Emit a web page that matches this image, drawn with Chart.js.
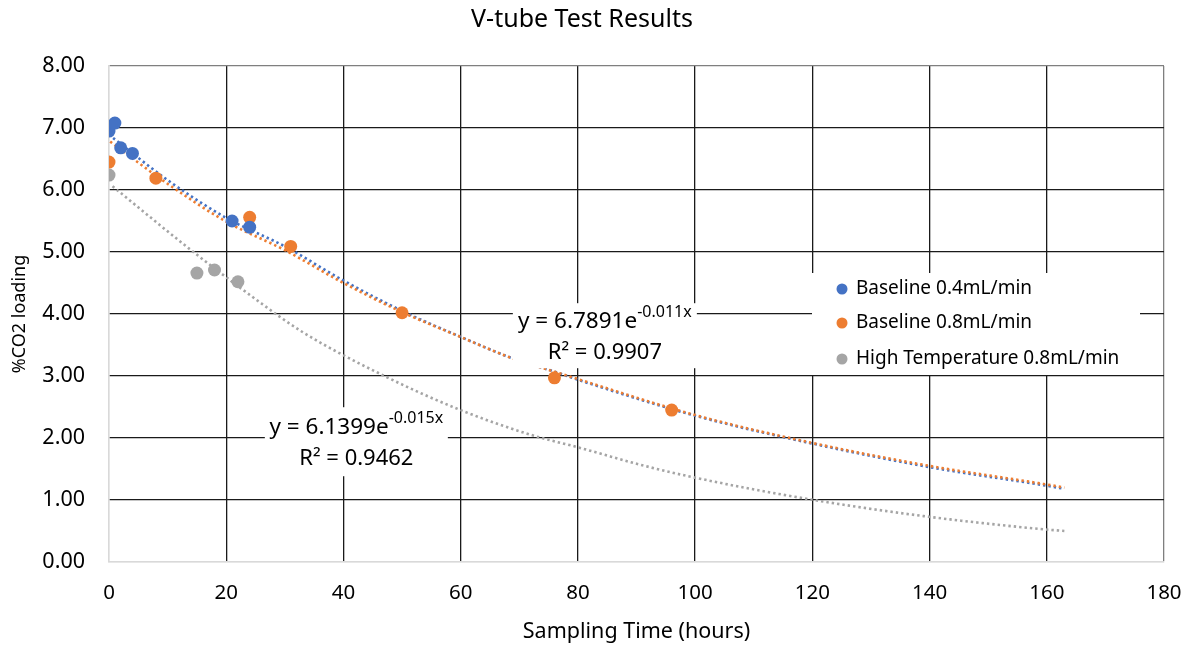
<!DOCTYPE html>
<html lang="en">
<head>
    <meta charset="UTF-8">
    <title>V-tube Test Results</title>
    <script src="https://cdn.jsdelivr.net/npm/chart.js"></script>
    <style>
        body {
            margin: 0;
            background: #ffffff;
        }
        .chart-container {
            width: 1191px;
            height: 646px;
        }
    </style>
</head>
<body>
    <div class="chart-container">
        <canvas id="vtubeChart"></canvas>
    </div>
    <script>
        // measured points (hours, %CO2)
        const hoursBlue = [0, 1, 2, 4, 21, 24];
        const co2Blue = [6.95, 7.08, 6.68, 6.59, 5.50, 5.40];
        const hoursOrange = [0, 8, 24, 31, 50, 76, 96];
        const co2Orange = [6.45, 6.19, 5.56, 5.09, 4.02, 2.97, 2.45];
        const hoursGray = [0, 15, 18, 22];
        const co2Gray = [6.24, 4.66, 4.71, 4.52];

        // trendlines
        const trendHoursBlue = [0.7, 10, 20, 30, 40, 50, 60, 68.7, 76, 80, 100, 120, 140, 160, 163];
        const trendBlue = [6.84, 6.16, 5.55, 5.09, 4.54, 4.05, 3.63, 3.29, 3.07, 2.94, 2.36, 1.91, 1.53, 1.23, 1.18];
        const trendHoursOrange = [0.2, 10, 20, 30, 40, 50, 60, 68.7, 76, 80, 100, 120, 140, 160, 163];
        const trendOrange = [6.78, 6.10, 5.49, 5.03, 4.50, 4.03, 3.63, 3.29, 3.07, 2.95, 2.37, 1.92, 1.55, 1.25, 1.20];
        const trendHoursGray = [0.6, 14, 25, 33, 47, 60, 72, 80, 91, 100, 119, 139, 158, 163];
        const trendGray = [6.06, 5.03, 4.24, 3.71, 3.00, 2.45, 2.05, 1.85, 1.56, 1.36, 1.02, 0.74, 0.54, 0.50];

        const seriesNames = ['Baseline 0.4mL/min', 'Baseline 0.8mL/min', 'High Temperature 0.8mL/min'];
        const seriesColors = ['#4472C4', '#ED7D31', '#A5A5A5'];

        const xTicks = [0, 20, 40, 60, 80, 100, 120, 140, 160, 180];
        const yTicks = [0, 1, 2, 3, 4, 5, 6, 7, 8];

        const trendLabels = [
            { x: 84.6, y: 3.65, w: 184, h: 65, eq: 'y = 6.7891e', exp: '-0.011x', r2: 'R\u00B2 = 0.9907' },
            { x: 42.2, y: 1.94, w: 183, h: 69, eq: 'y = 6.1399e', exp: '-0.015x', r2: 'R\u00B2 = 0.9462' }
        ];

        const FONT = "'Noto Sans', sans-serif";

        function pts(xs, ys) {
            return xs.map((x, i) => ({ x: x, y: ys[i] }));
        }

        function scatterSet(i, xs, ys) {
            return {
                label: seriesNames[i],
                data: pts(xs, ys),
                backgroundColor: seriesColors[i],
                borderColor: seriesColors[i],
                pointRadius: 6.5,
                pointBorderWidth: 0,
                order: i
            };
        }

        function trendSet(i, xs, ys) {
            return {
                label: seriesNames[i] + ' trend',
                data: pts(xs, ys),
                showLine: true,
                borderColor: seriesColors[i],
                borderWidth: 2.6,
                borderDash: [2.4, 3],
                pointRadius: 0,
                cubicInterpolationMode: 'monotone',
                order: 5 - i
            };
        }

        // white boxes with the trendline equations
        const trendLabelPlugin = {
            id: 'trendLabels',
            afterDatasetsDraw(chart) {
                const ctx = chart.ctx;
                const xs = chart.scales.x, ys = chart.scales.y;
                trendLabels.forEach(l => {
                    const cx = xs.getPixelForValue(l.x);
                    const cy = ys.getPixelForValue(l.y);
                    ctx.save();
                    ctx.fillStyle = '#ffffff';
                    ctx.fillRect(cx - l.w / 2, cy - l.h / 2, l.w, l.h);
                    ctx.fillStyle = '#000000';
                    ctx.textBaseline = 'middle';
                    ctx.font = '22.5px ' + FONT;
                    const w1 = ctx.measureText(l.eq).width;
                    ctx.font = '16px ' + FONT;
                    const w2 = ctx.measureText(l.exp).width;
                    const x0 = cx - (w1 + w2) / 2;
                    ctx.font = '22.5px ' + FONT;
                    ctx.textAlign = 'left';
                    ctx.fillText(l.eq, x0, cy - 14);
                    ctx.font = '16px ' + FONT;
                    ctx.fillText(l.exp, x0 + w1, cy - 23);
                    ctx.font = '22px ' + FONT;
                    ctx.textAlign = 'center';
                    ctx.fillText(l.r2, cx, cy + 17);
                    ctx.restore();
                });
            }
        };

        // legend box inside the plot area
        const legendBoxPlugin = {
            id: 'legendBox',
            afterDraw(chart) {
                const ctx = chart.ctx;
                const area = chart.chartArea;
                const left = area.right - 352, top = area.top + 207;
                ctx.save();
                ctx.fillStyle = '#ffffff';
                ctx.fillRect(left, top, 328, 102);
                ctx.font = '19px ' + FONT;
                ctx.textBaseline = 'middle';
                ctx.textAlign = 'left';
                const rows = [16, 50, 86];
                seriesNames.forEach((name, i) => {
                    ctx.fillStyle = seriesColors[i];
                    ctx.beginPath();
                    ctx.arc(left + 30, top + rows[i], 5.5, 0, Math.PI * 2);
                    ctx.fill();
                    ctx.fillStyle = '#000000';
                    ctx.fillText(name, left + 44, top + rows[i]);
                });
                ctx.restore();
            }
        };

        function gridColor(c) {
            if (!c.tick) return '#1a1a1a';
            if (c.tick.value === 0) return '#d9d9d9';
            if (c.tick.value === 180 || c.tick.value === 8) return '#7f7f7f';
            return '#1a1a1a';
        }

        const ctx = document.getElementById('vtubeChart').getContext('2d');
        new Chart(ctx, {
            type: 'scatter',
            data: {
                datasets: [
                    scatterSet(0, hoursBlue, co2Blue),
                    scatterSet(1, hoursOrange, co2Orange),
                    scatterSet(2, hoursGray, co2Gray),
                    trendSet(0, trendHoursBlue, trendBlue),
                    trendSet(1, trendHoursOrange, trendOrange),
                    trendSet(2, trendHoursGray, trendGray)
                ]
            },
            options: {
                responsive: true,
                maintainAspectRatio: false,
                animation: false,
                layout: { padding: { left: 0, right: 27, top: 0, bottom: 0 } },
                plugins: {
                    legend: { display: false },
                    tooltip: { enabled: false },
                    title: {
                        display: true,
                        text: 'V-tube Test Results',
                        color: '#000000',
                        font: { family: FONT, size: 25, weight: 'normal' },
                        padding: { top: 5, bottom: 31 }
                    }
                },
                scales: {
                    x: {
                        type: 'linear',
                        min: xTicks[0],
                        max: xTicks[xTicks.length - 1],
                        afterBuildTicks: s => { s.ticks = xTicks.map(v => ({ value: v })); },
                        afterFit: s => {
                            // keep the plot edge where the layout padding puts it
                            s.height = 84;
                            s.paddingLeft = 0;
                            s.paddingRight = 0;
                        },
                        ticks: {
                            color: '#000000',
                            font: { family: FONT, size: 20.5 },
                            padding: 19,
                            maxRotation: 0
                        },
                        grid: { color: gridColor, lineWidth: 1.3, drawTicks: false },
                        border: { color: '#d9d9d9', width: 1.5 },
                        title: {
                            display: true,
                            text: 'Sampling Time (hours)',
                            color: '#000000',
                            font: { family: FONT, size: 21.5 },
                            padding: { top: 0, bottom: 1 }
                        }
                    },
                    y: {
                        type: 'linear',
                        min: yTicks[0],
                        max: yTicks[yTicks.length - 1],
                        afterBuildTicks: s => { s.ticks = yTicks.map(v => ({ value: v })); },
                        afterFit: s => { s.width = 109; },
                        ticks: {
                            color: '#000000',
                            font: { family: FONT, size: 21.5 },
                            padding: 24,
                            callback: v => v.toFixed(2)
                        },
                        grid: { color: gridColor, lineWidth: 1.3, drawTicks: false },
                        border: { color: '#d9d9d9', width: 1.5 },
                        title: {
                            display: true,
                            text: '%CO2 loading',
                            color: '#000000',
                            font: { family: FONT, size: 18 },
                            padding: { top: 9, bottom: 0 }
                        }
                    }
                }
            },
            plugins: [trendLabelPlugin, legendBoxPlugin]
        });
    </script>
</body>
</html>
